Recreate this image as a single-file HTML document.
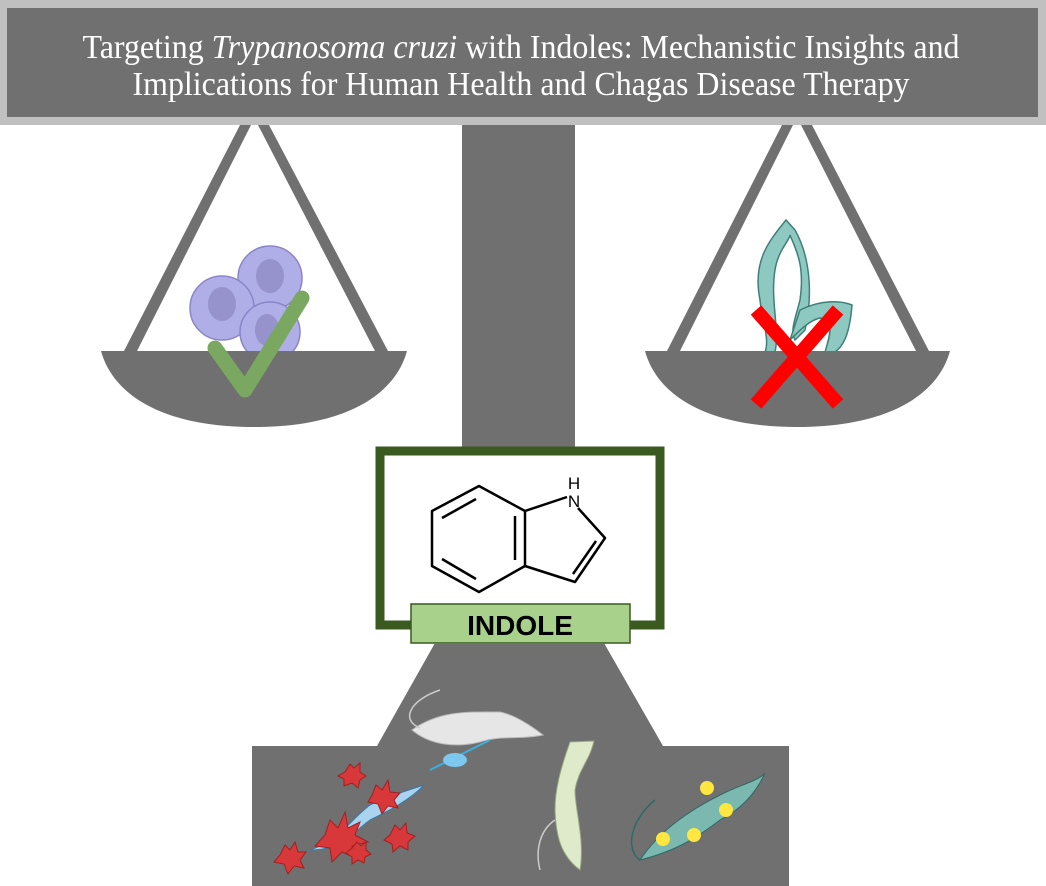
<!DOCTYPE html>
<html><head><meta charset="utf-8"><style>html,body{margin:0;padding:0;background:#fff}svg{display:block}</style></head><body>
<svg width="1046" height="886" viewBox="0 0 1046 886" xmlns="http://www.w3.org/2000/svg">
<rect x="0" y="0" width="1046" height="125" fill="#c0c0c0"/>
<rect x="7" y="8" width="1031" height="109" fill="#707070"/>
<text x="521" y="58" font-family="Liberation Serif, serif" font-size="34" fill="#fff" text-anchor="middle" textLength="877" lengthAdjust="spacingAndGlyphs">Targeting <tspan font-style="italic">Trypanosoma cruzi</tspan> with Indoles: Mechanistic Insights and</text>
<text x="521" y="95" font-family="Liberation Serif, serif" font-size="34" fill="#fff" text-anchor="middle" textLength="777" lengthAdjust="spacingAndGlyphs">Implications for Human Health and Chagas Disease Therapy</text>
<rect x="462" y="125" width="113" height="325" fill="#707070"/>
<path d="M240 125 L251 125 L137 351 L124 351 Z" fill="#707070"/>
<path d="M258 125 L269 125 L388 351 L375 351 Z" fill="#707070"/>
<path d="M782 125 L793 125 L680 351 L667 351 Z" fill="#707070"/>
<path d="M801 125 L812 125 L929 351 L916 351 Z" fill="#707070"/>
<g fill="#b0aee6" stroke="#8a85c8" stroke-width="1.5">
<circle cx="270" cy="278" r="32"/>
<circle cx="222" cy="308" r="32"/>
<circle cx="270" cy="332" r="30"/>
</g>
<g fill="#9592cc"><ellipse cx="270" cy="276" rx="14" ry="17"/><ellipse cx="222" cy="304" rx="14" ry="17"/><ellipse cx="267" cy="330" rx="12" ry="16"/></g>
<g fill="#8ec9c1" stroke="#3e7f78" stroke-width="1.5">
<path d="M786 220 C770 240 752 260 760 300 C762 320 770 340 765 352 L775 352 C780 330 770 300 775 270 C778 250 790 240 790 235 C796 250 805 265 800 300 C795 320 790 330 795 340 L805 330 C812 300 812 260 795 230 Z"/>
<path d="M800 310 C820 300 840 300 852 305 C850 330 845 345 835 352 L825 352 C830 335 835 320 820 318 C810 320 800 330 790 340 Z"/>
</g>
<path d="M101 351 L407 351 C395 395 345 427 254 427 C163 427 113 395 101 351 Z" fill="#707070"/>
<path d="M645 351 L950 351 C938 395 888 427 797 427 C706 427 657 395 645 351 Z" fill="#707070"/>
<path d="M215 348 L245 390 L302 298" fill="none" stroke="#7aa860" stroke-width="15" stroke-linecap="round" stroke-linejoin="round"/>
<path d="M756 310 L838 404 M838 310 L756 404" stroke="#ff0000" stroke-width="14"/>
<rect x="380" y="451" width="280" height="174" fill="#fff" stroke="#3a5a20" stroke-width="9"/>
<rect x="411" y="604" width="219" height="39" fill="#a8d18c" stroke="#3a5a20" stroke-width="1.5"/>
<text x="520" y="635" font-family="Liberation Sans, sans-serif" font-weight="bold" font-size="28" fill="#000" text-anchor="middle">INDOLE</text>
<g fill="none" stroke="#000" stroke-width="2.5" stroke-linejoin="round">
<path d="M479 486 L432 511 L432 566 L479 592 L525 566 L525 511 Z"/>
<path d="M442 518 L476 499 M442 559 L476 579 M515 516 L515 560"/>
<path d="M525 511 L567 497 M578 508 L605 538 L575 582 L525 566"/>
<path d="M596 541 L573 574"/>
</g>
<text x="574" y="489" font-family="Liberation Sans, sans-serif" font-size="17" text-anchor="middle">H</text>
<text x="574" y="507" font-family="Liberation Sans, sans-serif" font-size="17" text-anchor="middle">N</text>
<path d="M435 643 L604 643 L663 746 L789 746 L789 886 L252 886 L252 746 L377 746 Z" fill="#707070"/>
<path d="M412 730 C440 710 470 712 500 712 C515 715 530 725 543 735 C520 740 500 735 480 742 C455 748 430 745 412 730 Z" fill="#e6e6e6" stroke="#bbb"/>
<path d="M420 728 C400 720 410 700 440 690" fill="none" stroke="#ccc" stroke-width="1.5"/>
<path d="M430 770 C450 760 470 750 490 740" fill="none" stroke="#3ab0e0" stroke-width="2"/>
<ellipse cx="455" cy="760" rx="12" ry="7" fill="#7cc8ee"/>
<path d="M310 850 C340 840 350 820 370 805 C390 795 410 790 424 785 C410 800 390 810 370 820 C350 835 340 850 310 850 Z" fill="#a8d4f0" stroke="#3a78a8"/>
<path d="M570 742 C560 770 555 790 555 810 C556 835 560 855 580 870 C585 840 575 810 575 790 C578 770 590 760 594 741 Z" fill="#dfeacb" stroke="#98a880"/>
<path d="M555 820 C540 830 535 850 540 870" fill="none" stroke="#ccc" stroke-width="1.5"/>
<path d="M640 860 C660 830 690 810 720 795 C740 785 760 780 765 773 C755 795 740 810 720 820 C700 835 680 850 640 860 Z" fill="#7ab8b0" stroke="#2e6a64"/>
<path d="M640 860 C625 850 630 820 655 800" fill="none" stroke="#2e6a64" stroke-width="1.5"/>
<g fill="#d9383a" stroke="#a02020">
<polygon points="325,835 330,820 338,828 345,812 348,828 360,822 355,835 368,842 352,846 355,858 342,852 332,862 330,848 315,846"/>
<polygon points="280,855 285,845 290,850 295,842 298,852 306,852 300,860 304,868 294,866 288,874 284,864 274,862"/>
<polygon points="372,795 376,785 382,790 388,780 390,792 400,793 394,800 398,808 388,806 382,814 378,804 368,802"/>
<polygon points="345,772 350,764 354,768 360,763 360,772 366,776 360,780 358,788 352,783 344,786 344,779 338,776"/>
<polygon points="390,835 395,825 400,830 406,823 407,833 415,836 408,842 408,850 400,846 393,852 392,844 384,840"/>
<polygon points="352,848 357,842 361,846 366,842 366,850 371,854 365,857 364,863 358,860 352,864 352,857 346,853"/>
</g>
<g fill="#ffe640"><circle cx="707" cy="788" r="7"/><circle cx="726" cy="810" r="7"/><circle cx="663" cy="839" r="7"/><circle cx="694" cy="835" r="7"/></g>
</svg>
</body></html>
